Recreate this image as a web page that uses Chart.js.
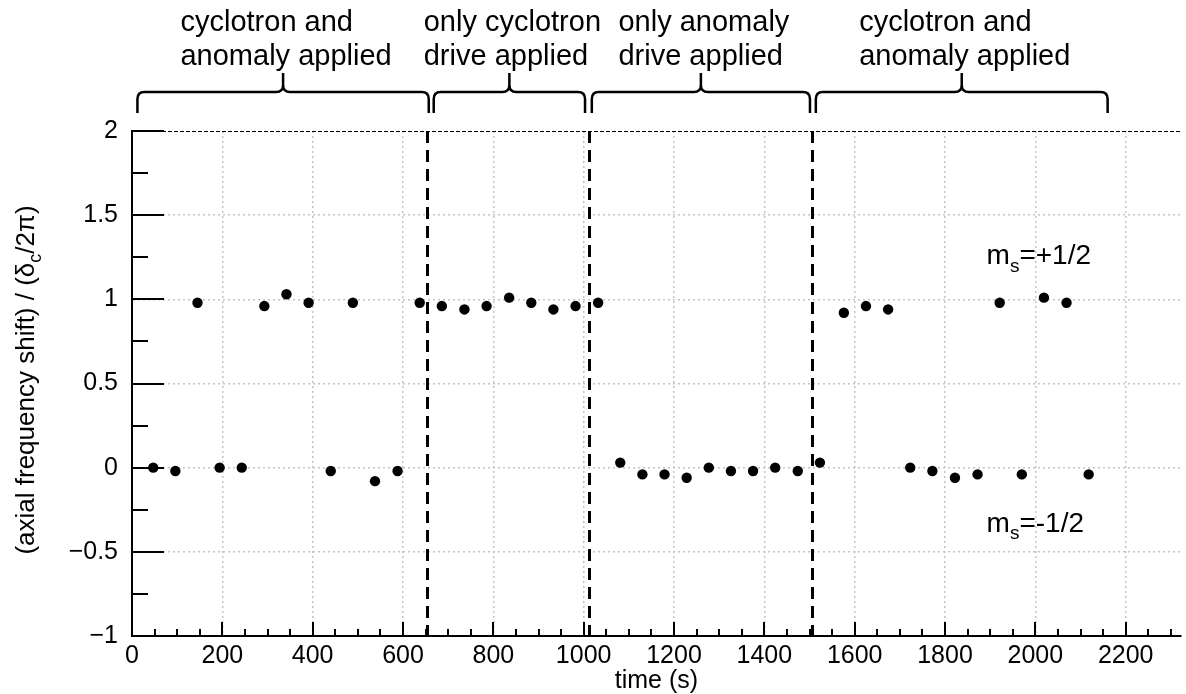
<!DOCTYPE html>
<html>
<head>
<meta charset="utf-8">
<title>Axial frequency shift vs time</title>
<script src="https://cdn.jsdelivr.net/npm/chart.js@4.4.1/dist/chart.umd.min.js"></script>
<style>
  body { margin: 0; background: #fff; }
  canvas { display: block; }
</style>
</head>
<body>
<canvas id="shiftChart" width="1186" height="694"></canvas>
<script>
// spin up measurements (m_s = +1/2)
const upperTimes = [145, 293, 342, 391, 489, 637, 686, 736, 785, 835, 884, 933, 982, 1032, 1576, 1625, 1674, 1921, 2019, 2069];
const upperShift = [0.98, 0.96, 1.03, 0.98, 0.98, 0.98, 0.96, 0.94, 0.96, 1.01, 0.98, 0.94, 0.96, 0.98, 0.92, 0.96, 0.94, 0.98, 1.01, 0.98];

// spin down measurements (m_s = -1/2)
const lowerTimes = [47, 96, 194, 243, 440, 538, 588, 1081, 1130, 1179, 1228, 1277, 1326, 1375, 1424, 1474, 1523, 1723, 1772, 1822, 1872, 1970, 2118];
const lowerShift = [0.0, -0.02, 0.0, 0.0, -0.02, -0.08, -0.02, 0.03, -0.04, -0.04, -0.06, 0.0, -0.02, -0.02, 0.0, -0.02, 0.03, 0.0, -0.02, -0.06, -0.04, -0.04, -0.04];

// times (s) where the drive setting changes
const switchTimes = [654, 1011, 1505];

// brace spans (s) and their captions
const phaseSpans = [[12, 657], [668, 1003], [1018, 1501], [1514, 2160]];
const phaseLabels = [
  ["cyclotron and", "anomaly applied"],
  ["only cyclotron", "drive applied"],
  ["only anomaly", "drive applied"],
  ["cyclotron and", "anomaly applied"]
];

// axis ranges and ticks
const xMin = 0, xMax = 2322, xMinorStep = 50;
const xTickValues = [0, 200, 400, 600, 800, 1000, 1200, 1400, 1600, 1800, 2000, 2200];
const yMin = -1, yMax = 2, yStep = 0.5, yMinorStep = 0.25;

const FONT = "'Liberation Sans', Arial, Helvetica, sans-serif";

function toPoints(xs, ys) {
  return xs.map((t, i) => ({ x: t, y: ys[i] }));
}

function fmtY(v) {
  return v < 0 ? "\u2212" + Math.abs(v) : String(v);
}

// text with one subscript part: base, sub, rest
function drawSubText(ctx, x, y, base, sub, rest, size) {
  ctx.font = size + "px " + FONT;
  ctx.fillText(base, x, y);
  let w = ctx.measureText(base).width;
  ctx.font = Math.round(size * 0.68) + "px " + FONT;
  ctx.fillText(sub, x + w, y + size * 0.28);
  w += ctx.measureText(sub).width;
  ctx.font = size + "px " + FONT;
  ctx.fillText(rest, x + w, y);
}

function drawBrace(ctx, x1, x2, yLine, yEnd, yTip) {
  const mid = (x1 + x2) / 2, r = 7;
  ctx.beginPath();
  ctx.moveTo(x1, yEnd);
  ctx.lineTo(x1, yLine + r);
  ctx.quadraticCurveTo(x1, yLine, x1 + r, yLine);
  ctx.lineTo(mid - r, yLine);
  ctx.quadraticCurveTo(mid, yLine, mid, yLine - r);
  ctx.lineTo(mid, yTip);
  ctx.moveTo(mid, yLine - r);
  ctx.quadraticCurveTo(mid, yLine, mid + r, yLine);
  ctx.lineTo(x2 - r, yLine);
  ctx.quadraticCurveTo(x2, yLine, x2, yLine + r);
  ctx.lineTo(x2, yEnd);
  ctx.stroke();
}

const decorations = {
  id: "decorations",
  beforeDatasetsDraw(chart) {
    const { ctx, chartArea: a, scales: { x } } = chart;
    ctx.save();
    ctx.strokeStyle = "#000";
    // separators between drive phases
    ctx.lineWidth = 3;
    ctx.setLineDash([12, 7]);
    switchTimes.forEach(t => {
      const px = Math.round(x.getPixelForValue(t)) + 0.5;
      ctx.beginPath();
      ctx.moveTo(px, a.top);
      ctx.lineTo(px, a.bottom);
      ctx.stroke();
    });
    // thin dashed frame on top
    ctx.lineWidth = 1;
    ctx.setLineDash([4, 2]);
    ctx.beginPath();
    ctx.moveTo(a.left, a.top + 0.5);
    ctx.lineTo(a.right, a.top + 0.5);
    ctx.stroke();
    ctx.restore();
  },
  afterDraw(chart) {
    const { ctx, chartArea: a, scales: { x, y } } = chart;
    ctx.save();
    ctx.strokeStyle = "#000";
    ctx.fillStyle = "#000";
    ctx.setLineDash([]);

    // inward ticks
    ctx.lineWidth = 2;
    for (let t = xMin; t <= xMax; t += xMinorStep) {
      const px = Math.round(x.getPixelForValue(t));
      const len = xTickValues.includes(t) ? 14 : 7;
      ctx.beginPath();
      ctx.moveTo(px, a.bottom);
      ctx.lineTo(px, a.bottom - len);
      ctx.stroke();
    }
    for (let v = yMin; v <= yMax + 1e-9; v += yMinorStep) {
      const py = Math.round(y.getPixelForValue(v));
      const major = Math.abs(v / yStep - Math.round(v / yStep)) < 1e-6;
      ctx.beginPath();
      ctx.moveTo(a.left, py);
      ctx.lineTo(a.left + (major ? 32 : 16), py);
      ctx.stroke();
    }

    // braces with captions
    ctx.lineWidth = 2.5;
    ctx.font = "29px " + FONT;
    ctx.textBaseline = "alphabetic";
    ctx.textAlign = "left";
    phaseSpans.forEach((span, i) => {
      const x1 = x.getPixelForValue(span[0]);
      const x2 = x.getPixelForValue(span[1]);
      drawBrace(ctx, x1, x2, 92, 113, 73);
      const lines = phaseLabels[i];
      const wide = Math.max(...lines.map(s => ctx.measureText(s).width));
      const left = (x1 + x2) / 2 - wide / 2 + 3;
      ctx.fillText(lines[0], left, 31);
      ctx.fillText(lines[1], left, 65);
    });

    // spin state labels
    drawSubText(ctx, x.getPixelForValue(1892), y.getPixelForValue(1.21), "m", "s", "=+1/2", 28);
    drawSubText(ctx, x.getPixelForValue(1892), y.getPixelForValue(-0.38), "m", "s", "=-1/2", 28);

    // y axis title
    ctx.translate(34, 380);
    ctx.rotate(-Math.PI / 2);
    const p1 = "(axial frequency shift) / (\u03b4", p2 = "c", p3 = "/2\u03c0)";
    ctx.font = "26px " + FONT;
    const w1 = ctx.measureText(p1).width, w3 = ctx.measureText(p3).width;
    ctx.font = "18px " + FONT;
    const w2 = ctx.measureText(p2).width;
    drawSubText(ctx, -(w1 + w2 + w3) / 2, 0, p1, p2, p3, 26);
    ctx.restore();
  }
};

const ctx = document.getElementById("shiftChart").getContext("2d");
const shiftChart = new Chart(ctx, {
  type: "scatter",
  data: {
    datasets: [
      {
        label: "m_s=+1/2",
        data: toPoints(upperTimes, upperShift),
        backgroundColor: "#000",
        borderColor: "#000",
        borderWidth: 0,
        pointRadius: 5.2
      },
      {
        label: "m_s=-1/2",
        data: toPoints(lowerTimes, lowerShift),
        backgroundColor: "#000",
        borderColor: "#000",
        borderWidth: 0,
        pointRadius: 5.2
      }
    ]
  },
  options: {
    responsive: false,
    animation: false,
    layout: { padding: { top: 131, right: 0, bottom: 0, left: 0 } },
    plugins: {
      legend: { display: false },
      tooltip: { enabled: false }
    },
    scales: {
      x: {
        type: "linear",
        min: xMin,
        max: xMax,
        afterBuildTicks: scale => {
          scale.ticks = xTickValues.map(v => ({ value: v }));
        },
        afterFit: scale => { scale.height = 58; },
        ticks: {
          padding: 5,
          color: "#000",
          autoSkip: false,
          font: { family: FONT, size: 25 },
          maxRotation: 0,
          callback: v => String(v)
        },
        grid: {
          drawTicks: false,
          lineWidth: 1.5,
          color: c => (c.tick && c.tick.value === 0 ? "rgba(0,0,0,0)" : "#c4c4c4")
        },
        border: { display: true, color: "#000", width: 2, dash: [2, 3] },
        title: {
          display: true,
          text: "time (s)",
          color: "#000",
          font: { family: FONT, size: 25, lineHeight: 1 },
          padding: { top: 0, bottom: 0 }
        }
      },
      y: {
        min: yMin,
        max: yMax,
        afterFit: scale => { scale.width = 132; },
        ticks: {
          stepSize: yStep,
          padding: 14,
          color: "#000",
          font: { family: FONT, size: 25 },
          callback: v => fmtY(v)
        },
        grid: {
          drawTicks: false,
          lineWidth: 1.5,
          color: c => (c.tick && (c.tick.value === yMin || c.tick.value === yMax) ? "rgba(0,0,0,0)" : "#c4c4c4")
        },
        border: { display: true, color: "#000", width: 2, dash: [2, 3] }
      }
    }
  },
  plugins: [decorations]
});
</script>
</body>
</html>
